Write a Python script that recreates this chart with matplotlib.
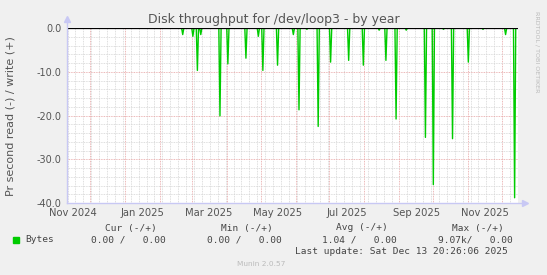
from datetime import datetime, timedelta

import matplotlib
import matplotlib.dates as mdates
from matplotlib.ticker import MultipleLocator

matplotlib.use("Agg")
import matplotlib.pyplot as plt  # noqa: E402

W, H = 547, 275

# read spikes per second (plotted negative), write stays at 0
spike_dates = [
    "2025-02-21", "2025-03-02", "2025-03-06", "2025-03-09", "2025-03-26",
    "2025-04-02", "2025-04-18", "2025-04-29", "2025-05-03", "2025-05-16",
    "2025-05-30", "2025-06-04", "2025-06-11", "2025-06-21", "2025-07-02",
    "2025-07-18", "2025-07-31", "2025-08-14", "2025-08-20", "2025-08-29",
    "2025-09-07", "2025-09-24", "2025-10-01", "2025-10-10", "2025-10-18",
    "2025-11-01", "2025-11-14", "2025-12-04", "2025-12-12",
]
spike_values = [
    -1.5, -1.9, -9.7, -1.5, -20.1,
    -8.2, -6.9, -1.9, -9.7, -8.5,
    -1.5, -18.7, -0.3, -22.5, -7.8,
    -7.4, -8.5, -0.5, -7.4, -20.8,
    -0.5, -25.0, -35.8, -0.3, -25.3,
    -7.8, -0.3, -1.5, -38.8,
]
month_labels = ["Nov 2024", "Jan 2025", "Mar 2025", "May 2025",
                "Jul 2025", "Sep 2025", "Nov 2025"]

legend_heads = ["Cur (-/+)", "Min (-/+)", "Avg (-/+)", "Max (-/+)"]
legend_vals = ["0.00 /   0.00", "0.00 /   0.00", "1.04 /   0.00", "9.07k/   0.00"]
last_update = "Last update: Sat Dec 13 20:26:06 2025"

start = datetime(2024, 11, 10, 12)
end = datetime(2025, 12, 15)

GREEN = "#00cc00"
TXT = "#555555"


def fx(x):
    return x / W


def fy(y):
    return 1 - y / H


fig = plt.figure(figsize=(W / 100, H / 100), dpi=100, facecolor="#f0f0f0")
ax = fig.add_axes([fx(67), fy(203), 451 / W, 175 / H], facecolor="white")

xs, ys = [start], [0]
for d, v in zip(spike_dates, spike_values):
    day = datetime.fromisoformat(d)
    xs += [day - timedelta(days=1), day, day + timedelta(days=1)]
    ys += [0, v, 0]
xs.append(end)
ys.append(0)
ax.plot(xs, ys, color=GREEN, lw=1.0, zorder=3)
ax.axhline(0, color="black", lw=0.9, zorder=4)

ax.set_xlim(start, end)
ax.set_ylim(-40, 0)

ax.xaxis.set_major_locator(mdates.MonthLocator(bymonthday=1))
ax.xaxis.set_minor_locator(mdates.WeekdayLocator(byweekday=mdates.MO))
ax.yaxis.set_major_locator(MultipleLocator(10))
ax.yaxis.set_minor_locator(MultipleLocator(2))
ax.xaxis.set_major_formatter(plt.NullFormatter())
ax.yaxis.set_major_formatter(plt.FuncFormatter(lambda v, _: f"{v:.1f}"))

dot = (0, (1, 1))
ax.grid(which="minor", color="#d4d4d4", lw=0.6, linestyle=dot)
ax.grid(which="major", color="#e6a0a0", lw=0.6, linestyle=dot)
ax.set_axisbelow(True)
ax.tick_params(which="both", length=0)
ax.tick_params(axis="y", labelsize=7, labelcolor=TXT, pad=4)
for s in ax.spines.values():
    s.set_visible(False)

# month labels centred on the middle of each month
for lab in month_labels:
    mid = datetime.strptime(lab, "%b %Y") + timedelta(days=15)
    ax.text(mid, -9.5 / 175, lab, transform=ax.get_xaxis_transform(),
            ha="center", va="center", fontsize=7.2, color=TXT)

# axis lines with arrows
axis_c = "#c8c8f4"
ax.plot([0, 0], [0, 1.04], transform=ax.transAxes, color=axis_c, lw=1,
        clip_on=False, zorder=5)
ax.plot([0], [1.05], transform=ax.transAxes, marker="^", ms=5, color=axis_c,
        clip_on=False, zorder=5)
ax.plot([0, 1.01], [0, 0], transform=ax.transAxes, color=axis_c, lw=1,
        clip_on=False, zorder=5)
ax.plot([1.015], [0], transform=ax.transAxes, marker=">", ms=5, color=axis_c,
        clip_on=False, zorder=5)

fig.text(fx(273.5), fy(19), "Disk throughput for /dev/loop3 - by year",
         ha="center", va="center", fontsize=9, color=TXT)
fig.text(fx(11), fy(116), "Pr second read (-) / write (+)", rotation=90,
         ha="center", va="center", fontsize=8, color=TXT)
fig.text(fx(537), fy(52), "RRDTOOL / TOBI OETIKER", rotation=270,
         ha="center", va="center", fontsize=4.6, color="#bbbbbb")

mono = dict(family="DejaVu Sans Mono", fontsize=6.8, color="#444444", va="center")
fig.patches.append(plt.Rectangle((fx(13.3), fy(242.5)), 5.3 / W, 5.3 / H,
                                 transform=fig.transFigure, color=GREEN))
fig.text(fx(25), fy(240), "Bytes", **mono)
for i, (hd, val) in enumerate(zip(legend_heads, legend_vals)):
    right = 157 + i * 115.5
    fig.text(fx(right), fy(228), hd, ha="right", **mono)
    fig.text(fx(right + 9), fy(240), val, ha="right", **mono)
fig.text(fx(508), fy(252), last_update, ha="right", **mono)
fig.text(fx(261), fy(264), "Munin 2.0.57", ha="center", va="center",
         fontsize=5.3, color="#bbbbbb")

fig.savefig("out.png", dpi=100, facecolor=fig.get_facecolor())
